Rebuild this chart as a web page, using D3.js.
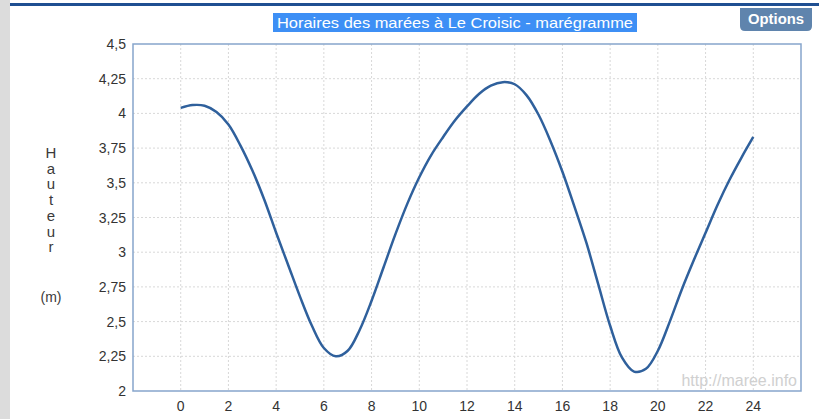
<!DOCTYPE html>
<meta charset="utf-8">
<html lang="fr">
  <head>
    <style>
      body { margin: 0; background-color: #fff; }
      svg { display: block; font-family: "Liberation Sans", Arial, sans-serif; }
      .grid line { stroke: #d8d8d8; stroke-width: 1px; stroke-dasharray: 2,2; }
      .tick-label { font-size: 14px; fill: #333; }
    </style>
  </head>
  <body>
    <script src="https://cdn.jsdelivr.net/npm/d3@7"></script>
    <svg></svg>
    <script>

      var hours = [0, 0.5, 1, 1.5, 2, 2.5, 3, 3.5, 4, 4.5, 5, 5.5, 6, 6.5, 7, 7.5, 8, 8.5,
        9, 9.5, 10, 10.5, 11, 11.5, 12, 12.5, 13, 13.5, 14, 14.5, 15, 15.5, 16, 16.5,
        17, 17.5, 18, 18.5, 19, 19.5, 20, 20.5, 21, 21.5, 22, 22.5, 23, 23.5, 24];
      var heights = [4.04, 4.06, 4.055, 4.01, 3.92, 3.77, 3.59, 3.38, 3.14, 2.91, 2.68, 2.47,
        2.31, 2.25, 2.29, 2.44, 2.65, 2.89, 3.13, 3.35, 3.54, 3.70, 3.83, 3.95, 4.05, 4.14,
        4.20, 4.225, 4.21, 4.13, 3.99, 3.80, 3.58, 3.33, 3.07, 2.77, 2.47, 2.24, 2.14, 2.16,
        2.29, 2.50, 2.73, 2.94, 3.14, 3.34, 3.52, 3.68, 3.83];

      var xTicks = [0, 2, 4, 6, 8, 10, 12, 14, 16, 18, 20, 22, 24];
      var xGrid = [0, 2, 4, 6, 8, 10, 12, 14, 16, 18, 20, 22, 24];
      var yTicks = [2, 2.25, 2.5, 2.75, 3, 3.25, 3.5, 3.75, 4, 4.25, 4.5];

      var title = "Horaires des marées à Le Croisic - marégramme";
      var yLabel = "Hauteur";

      var width = 819, height = 419;
      var plotLeft = 133, plotRight = 801, plotTop = 44, plotBottom = 391;

      var svg = d3.select("svg")
        .attr("width", width)
        .attr("height", height);

      // bande grise à gauche + filet bleu en haut
      svg.append("rect").attr("x", 0).attr("y", 0).attr("width", 10).attr("height", height)
        .attr("fill", "#dcdcdc");
      svg.append("rect").attr("x", 10).attr("y", 3).attr("width", width - 10).attr("height", 3)
        .attr("fill", "#1f4f92");

      var xScale = d3.scaleLinear().domain([-2, 26]).range([plotLeft, plotRight]);
      var yScale = d3.scaleLinear().domain([2, 4.5]).range([plotBottom, plotTop]);

      var format = function(d) { return String(d).replace(".", ","); };

      // grille
      var grid = svg.append("g").attr("class", "grid");
      grid.selectAll(".h").data(yTicks.slice(1, -1)).enter().append("line")
        .attr("x1", plotLeft).attr("x2", plotRight)
        .attr("y1", function(d) { return yScale(d); })
        .attr("y2", function(d) { return yScale(d); });
      grid.selectAll(".v").data(xGrid).enter().append("line")
        .attr("y1", plotTop).attr("y2", plotBottom)
        .attr("x1", function(d) { return xScale(d); })
        .attr("x2", function(d) { return xScale(d); });

      // cadre
      svg.append("rect")
        .attr("x", plotLeft).attr("y", plotTop)
        .attr("width", plotRight - plotLeft).attr("height", plotBottom - plotTop)
        .attr("fill", "none")
        .attr("stroke", "#86a5cc")
        .attr("stroke-width", 1.5);

      // libellés des axes
      svg.selectAll(".ylab").data(yTicks).enter().append("text")
        .attr("class", "tick-label")
        .attr("x", 126)
        .attr("y", function(d) { return yScale(d) + 5; })
        .attr("text-anchor", "end")
        .text(format);

      svg.selectAll(".xlab").data(xTicks).enter().append("text")
        .attr("class", "tick-label")
        .attr("x", function(d) { return xScale(d); })
        .attr("y", 411)
        .attr("text-anchor", "middle")
        .text(format);

      // titre vertical
      svg.selectAll(".vl").data(yLabel.split("")).enter().append("text")
        .attr("x", 51)
        .attr("y", function(d, i) { return 158 + i * 15.7; })
        .attr("text-anchor", "middle")
        .style("font-size", "15px")
        .style("fill", "#3a3a3a")
        .text(function(d) { return d; });
      svg.append("text")
        .attr("x", 51).attr("y", 302)
        .attr("text-anchor", "middle")
        .style("font-size", "14px")
        .style("fill", "#3a3a3a")
        .text("(m)");

      // filigrane
      svg.append("text")
        .attr("x", 797).attr("y", 386)
        .attr("text-anchor", "end")
        .style("font-size", "16px")
        .style("fill", "#d0d0d0")
        .text("http://maree.info");

      // courbe
      var line = d3.line()
        .x(function(d, i) { return xScale(hours[i]); })
        .y(function(d) { return yScale(d); })
        .curve(d3.curveCatmullRom.alpha(0.5));

      svg.append("path")
        .datum(heights)
        .attr("d", line)
        .attr("fill", "none")
        .attr("stroke", "#2f609c")
        .attr("stroke-width", 2.5);

      // titre
      svg.append("rect")
        .attr("x", 273).attr("y", 13).attr("width", 364).attr("height", 19)
        .attr("fill", "#3d8ff5");
      svg.append("text")
        .attr("x", 455).attr("y", 28)
        .attr("text-anchor", "middle")
        .attr("textLength", 356)
        .attr("lengthAdjust", "spacingAndGlyphs")
        .style("font-size", "15px")
        .style("fill", "#fff")
        .text(title);

      // bouton Options
      svg.append("path")
        .attr("d", "M740,8 H812 V26 Q812,31 807,31 H745 Q740,31 740,26 Z")
        .attr("fill", "#5f84ad");
      svg.append("text")
        .attr("x", 776).attr("y", 24)
        .attr("text-anchor", "middle")
        .attr("textLength", 56)
        .attr("lengthAdjust", "spacingAndGlyphs")
        .style("font-size", "14px")
        .style("font-weight", "bold")
        .style("fill", "#fff")
        .text("Options");

    </script>
  </body>
</html>
